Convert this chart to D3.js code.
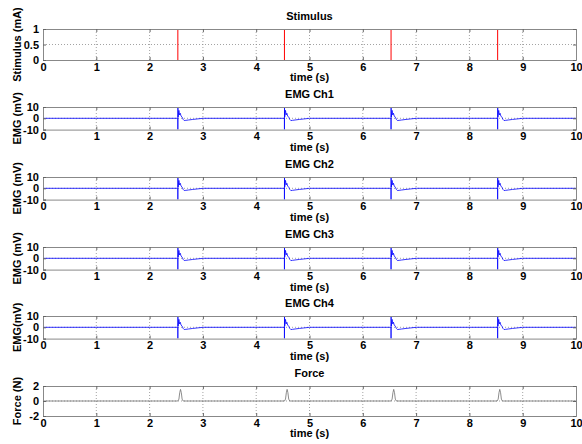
<!DOCTYPE html>
<html>
<head>
<meta charset="utf-8">
<script src="https://cdn.jsdelivr.net/npm/d3@7"></script>
<style>
body{margin:0;background:#fff}
text{font-family:"Liberation Sans",Arial,sans-serif;font-weight:bold;font-size:11px;fill:#000}
</style>
</head>
<body>
<script>
var timeTicks = [0,1,2,3,4,5,6,7,8,9,10];
var stimTimes = [2.53,4.53,6.53,8.53];        // stimulus pulses (s)
var stimTicks = [0,0.5,1];
var emgTicks = [-10,0,10];
var forceTicks = [-2,0,2];
// shape of the EMG response after each pulse (dt in s, mV)
var emgRespT = [0,0.001,0.004,0.02,0.032,0.045,0.06,0.08,0.1,0.12,0.15,0.2,0.28,0.36,0.47];
var emgRespV = [-10,10,1,7,3,4.5,2,1,-1,-2,-1.8,-1.5,-1,-0.6,0];
var emgNames = ["EMG Ch1","EMG Ch2","EMG Ch3","EMG Ch4"];
var emgLabels = ["EMG (mV)","EMG (mV)","EMG (mV)","EMG(mV)"];
var forceTimes = [2.58,4.58,6.58,8.57];
var forcePulseT = [-0.05,-0.03,-0.015,0,0.015,0.03,0.05];
var forcePulseV = [0,0.25,1.1,1.55,1.1,0.25,0];

var W = 582, H = 444;
var x0 = 43, x1 = 576;
var svg = d3.select("body").append("svg").attr("width",W).attr("height",H);
var x = d3.scaleLinear().domain([0,10]).range([x0,x1]);

// builds a trace: zero baseline with a template placed at each event time
function buildTrace(times, tT, tV){
  var pts = [[0,0]];
  times.forEach(function(t){
    pts.push([t+tT[0]-0.0005,0]);
    tT.forEach(function(d,i){ pts.push([t+d, tV[i]]); });
  });
  pts.push([10,0]);
  return pts;
}

function panel(top, h, dom, ticks, title, ylab, id){
  var y = d3.scaleLinear().domain(dom).range([top+h, top]);
  var g = svg.append("g");
  g.append("defs").append("clipPath").attr("id","c"+id)
    .append("rect").attr("x",x0).attr("y",top).attr("width",x1-x0).attr("height",h);
  // grid
  g.selectAll("line.gx").data(timeTicks.slice(1,-1)).enter().append("line")
    .attr("x1",function(d){return x(d);}).attr("x2",function(d){return x(d);})
    .attr("y1",top).attr("y2",top+h)
    .attr("stroke","#8c8c8c").attr("stroke-width",0.8).attr("stroke-dasharray","1,2");
  g.selectAll("line.gy").data(ticks.slice(1,-1)).enter().append("line")
    .attr("x1",x0).attr("x2",x1)
    .attr("y1",function(d){return y(d);}).attr("y2",function(d){return y(d);})
    .attr("stroke","#8c8c8c").attr("stroke-width",0.8).attr("stroke-dasharray","1,2");
  var plot = g.append("g").attr("clip-path","url(#c"+id+")");
  // axes: bottom/top/left/right with inward ticks
  var ax = g.append("g");
  ax.append("g").attr("transform","translate(0,"+(top+h)+")")
    .call(d3.axisBottom(x).tickValues(timeTicks).tickSize(-3).tickPadding(3).tickFormat(d3.format("d")));
  ax.append("g").attr("transform","translate(0,"+top+")")
    .call(d3.axisTop(x).tickValues(timeTicks).tickSize(-3).tickFormat(""));
  ax.append("g").attr("transform","translate("+x0+",0)")
    .call(d3.axisLeft(y).tickValues(ticks).tickSize(-3).tickPadding(4).tickFormat(function(d){return d;}));
  ax.append("g").attr("transform","translate("+x1+",0)")
    .call(d3.axisRight(y).tickValues(ticks).tickSize(-3).tickFormat(""));
  ax.selectAll(".domain").attr("stroke","#888");
  ax.selectAll(".tick line").attr("stroke","#666");
  ax.selectAll("text").style("font-size","11px").attr("fill","#000");
  // titles
  g.append("text").attr("x",(x0+x1)/2).attr("y",top-9).attr("text-anchor","middle").text(title);
  g.append("text").attr("x",(x0+x1)/2).attr("y",top+h+21).attr("text-anchor","middle").text("time (s)");
  g.append("text").attr("transform","translate(21,"+(top+h/2)+") rotate(-90)")
    .attr("text-anchor","middle").text(ylab);
  return {plot:plot, y:y};
}

// Stimulus
var p = panel(29, 31, [0,1], stimTicks, "Stimulus", "Stimulus (mA)", 0);
p.plot.selectAll("line.stim").data(stimTimes).enter().append("line")
  .attr("x1",function(d){return x(d);}).attr("x2",function(d){return x(d);})
  .attr("y1",p.y(0)).attr("y2",p.y(1))
  .attr("stroke","#ff0000").attr("stroke-width",1);

// EMG channels
var emgTops = [107,177,247,316];
emgNames.forEach(function(name,i){
  var q = panel(emgTops[i], 22.6, [-10,10], emgTicks, name, emgLabels[i], i+1);
  var line = d3.line().x(function(d){return x(d[0]);}).y(function(d){return q.y(d[1]);});
  q.plot.append("path").attr("d",line(buildTrace(stimTimes, emgRespT, emgRespV)))
    .attr("fill","none").attr("stroke","#0000ff").attr("stroke-width",0.8);
});

// Force
var f = panel(386, 30, [-2,2], forceTicks, "Force", "Force (N)", 5);
var fl = d3.line().x(function(d){return x(d[0]);}).y(function(d){return f.y(d[1]);});
f.plot.append("path").attr("d",fl(buildTrace(forceTimes, forcePulseT, forcePulseV)))
  .attr("fill","none").attr("stroke","#707070").attr("stroke-width",0.8);
</script>
</body>
</html>
